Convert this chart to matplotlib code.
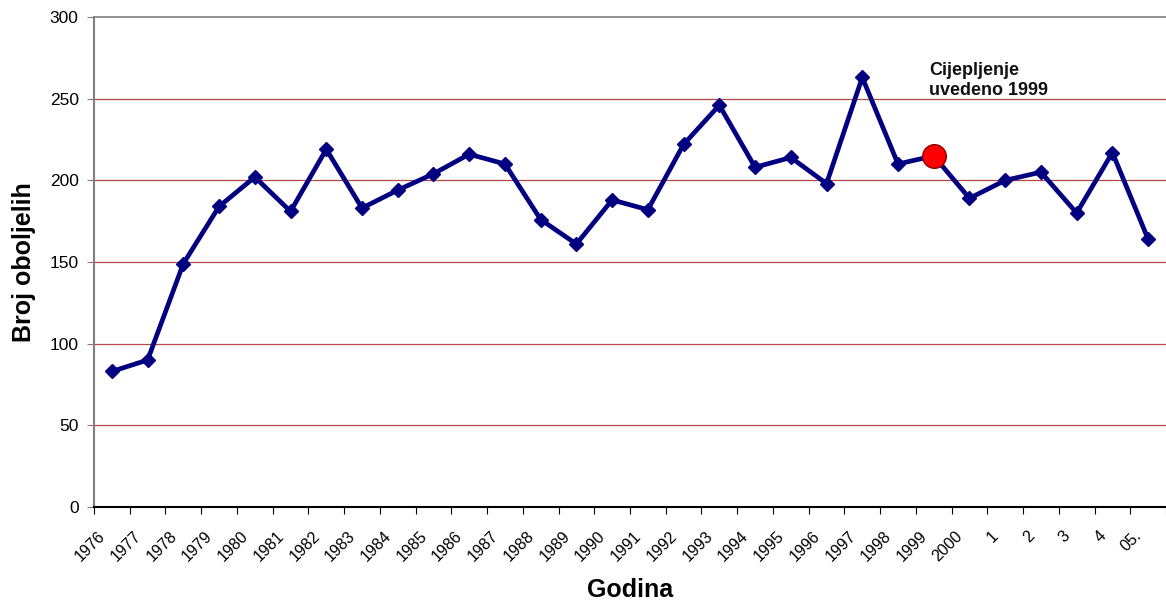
import matplotlib
matplotlib.use("Agg")
import matplotlib.pyplot as plt
import matplotlib.transforms as mtransforms
import numpy as np

categories = ["1976", "1977", "1978", "1979", "1980", "1981", "1982", "1983", "1984", "1985",
              "1986", "1987", "1988", "1989", "1990", "1991", "1992", "1993", "1994", "1995",
              "1996", "1997", "1998", "1999", "2000", "1", "2", "3", "4", "05."]
values = [83, 90, 149, 184, 202, 181, 219, 183, 194, 204,
          216, 210, 176, 161, 188, 182, 222, 246, 208, 214,
          198, 263, 210, 215, 189, 200, 205, 180, 217, 164]
highlight_label = "1999"
annotation_text = "Cijepljenje\nuvedeno 1999"
y_ticks = [0, 50, 100, 150, 200, 250, 300]

plt.rcParams['font.family'] = ['Liberation Sans', 'DejaVu Sans']

fig = plt.figure(figsize=(11.66, 6.05), dpi=100)
ax = fig.add_axes([94/1166, 1 - 507/605, 1 - 94/1166, (507 - 17)/605])

x = np.arange(len(categories))
for yv in y_ticks[1:-1]:
    ax.axhline(yv, color='#B84848', lw=0.9, zorder=1)

ax.plot(x, values, color='#000080', lw=3.4, marker='D', markersize=7,
        markerfacecolor='#000080', markeredgecolor='#000080', zorder=3)

hi = categories.index(highlight_label)
ax.plot([x[hi]], [values[hi]], marker='o', markersize=17, color='#FF0000',
        markeredgecolor='#8B0000', markeredgewidth=1.0, linestyle='none', zorder=4)

ax.text(22.87, 261, annotation_text, fontsize=13, fontweight='bold', ha='left',
        va='center', linespacing=1.25, color='#111111')

ax.set_xlim(-0.5, len(categories) - 0.5)
ax.set_ylim(0, 300)
ax.set_yticks(y_ticks)
ax.set_yticklabels([str(v) for v in y_ticks], fontsize=12.5)
ax.set_xticks(np.arange(len(categories) + 1) - 0.5)
ax.set_xticklabels([])
ax.set_xticks(x, minor=True)
ax.set_xticklabels(categories, minor=True, rotation=45, ha='right', va='center',
                   rotation_mode='anchor', fontsize=11.5)
ax.tick_params(axis='x', which='minor', length=0, pad=19)
ax.tick_params(axis='x', which='major', direction='out', length=5, color='black')
ax.tick_params(axis='y', direction='out', length=5, color='#808080', pad=6)
shift = mtransforms.ScaledTranslation(-9/100, 0, fig.dpi_scale_trans)
for tick in ax.xaxis.get_minor_ticks():
    tick.label1.set_transform(tick.label1.get_transform() + shift)

ax.spines['left'].set_color('#808080')
ax.spines['left'].set_linewidth(1.5)
ax.spines['top'].set_color('#808080')
ax.spines['top'].set_linewidth(1.2)
ax.spines['right'].set_visible(False)
ax.spines['bottom'].set_color('black')
ax.spines['bottom'].set_linewidth(1.5)

ax.set_ylabel("Broj oboljelih", fontsize=18, fontweight='bold', labelpad=10)
ax.set_xlabel("Godina", fontsize=18, fontweight='bold', labelpad=10)

fig.savefig("out.png", dpi=100)
